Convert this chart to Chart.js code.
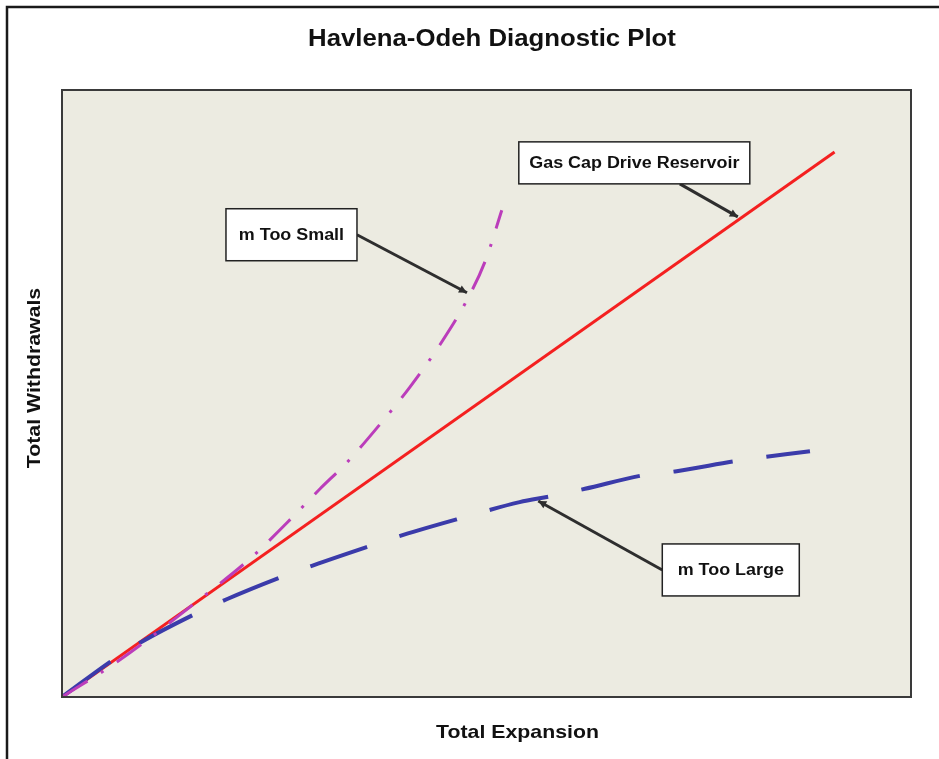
<!DOCTYPE html>
<html>
<head>
<meta charset="utf-8">
<script src="https://cdn.jsdelivr.net/npm/chart.js@4.4.1/dist/chart.umd.min.js"></script>
<style>
  html, body { margin: 0; padding: 0; background: #ffffff; }
  #wrap { width: 939px; height: 759px; }
</style>
</head>
<body>
<div id="wrap"><canvas id="c" width="939" height="759"></canvas></div>
<script>
// ---- Data (arbitrary units, axes run 0..100) ----
const chartTitle = 'Havlena-Odeh Diagnostic Plot';
const xAxisTitle = 'Total Expansion';
const yAxisTitle = 'Total Withdrawals';

const gasCapX = [0, 91.0];
const gasCapY = [0, 89.8];

const tooSmallX = [0, 6.5, 16.6, 22.4, 26.5, 30.4, 33.6, 37.2, 41.0, 44.5, 47.7, 49.9, 51.8];
const tooSmallY = [0, 5.8, 16.5, 23.1, 28.7, 34.3, 38.7, 44.5, 51.1, 58.0, 65.4, 72.0, 80.2];

const tooLargeX = [0, 6.0, 9.4, 15.7, 19.4, 25.9, 29.6, 36.3, 40.2, 47.1, 53.9, 57.7, 61.6, 68.7, 72.4, 79.5, 88.1];
const tooLargeY = [0, 6.1, 9.1, 13.7, 16.1, 19.8, 21.7, 24.9, 26.7, 29.5, 32.1, 33.1, 34.3, 36.6, 37.2, 38.9, 40.5];

const labelTexts = ['m Too Small', 'Gas Cap Drive Reservoir', 'm Too Large'];
const labelTargetX = [47.7, 79.6, 56.1];
const labelTargetY = [66.6, 79.1, 32.3];

// ---- helpers ----
function pts(xs, ys) { return xs.map((x, i) => ({ x: x, y: ys[i] })); }

// label box layout (pixel offsets from target, size, anchor fraction)
const labelLayout = [
  { dx: -241, dy: -84, w: 131, h: 52, ax: 1, ay: 0.5 },
  { dx: -219, dy: -75, w: 231, h: 42, ax: 0.697, ay: 1 },
  { dx: 124, dy: 43, w: 137, h: 52, ax: 0, ay: 0.5 }
];

const STRETCH = 1.12;
const FONT = '"Liberation Sans", Arial, Helvetica, sans-serif';

function stretchText(ctx, text, x, y, rot) {
  ctx.save();
  ctx.translate(x, y);
  if (rot) ctx.rotate(rot);
  ctx.scale(STRETCH, 1);
  ctx.textAlign = 'center';
  ctx.textBaseline = 'middle';
  ctx.fillText(text, 0, 0);
  ctx.restore();
}

const decor = {
  id: 'decor',
  beforeDraw(chart) {
    const ctx = chart.ctx, a = chart.chartArea;
    ctx.save();
    ctx.fillStyle = '#ffffff';
    ctx.fillRect(0, 0, chart.width, chart.height);
    ctx.fillStyle = '#ECEBE1';
    ctx.fillRect(a.left, a.top, a.right - a.left, a.bottom - a.top);
    ctx.restore();
  },
  afterDatasetsDraw(chart) {
    const ctx = chart.ctx, a = chart.chartArea;
    const xs = chart.scales.x, ys = chart.scales.y;
    ctx.save();
    // plot border
    ctx.strokeStyle = '#3a3a3a';
    ctx.lineWidth = 2;
    ctx.strokeRect(a.left, a.top, a.right - a.left, a.bottom - a.top);

    // annotations
    labelTexts.forEach((t, i) => {
      const tx = xs.getPixelForValue(labelTargetX[i]);
      const ty = ys.getPixelForValue(labelTargetY[i]);
      const L = labelLayout[i];
      const bx = tx + L.dx, by = ty + L.dy;
      const sx = bx + L.w * L.ax, sy = by + L.h * L.ay;
      // pointer
      ctx.strokeStyle = '#2e2e2e';
      ctx.lineWidth = 3;
      ctx.beginPath();
      ctx.moveTo(sx, sy);
      ctx.lineTo(tx, ty);
      ctx.stroke();
      const ang = Math.atan2(ty - sy, tx - sx);
      ctx.fillStyle = '#2e2e2e';
      ctx.beginPath();
      ctx.moveTo(tx, ty);
      ctx.lineTo(tx - 8 * Math.cos(ang) + 4 * Math.sin(ang), ty - 8 * Math.sin(ang) - 4 * Math.cos(ang));
      ctx.lineTo(tx - 8 * Math.cos(ang) - 4 * Math.sin(ang), ty - 8 * Math.sin(ang) + 4 * Math.cos(ang));
      ctx.closePath();
      ctx.fill();
      // box
      ctx.fillStyle = '#ffffff';
      ctx.fillRect(bx, by, L.w, L.h);
      ctx.strokeStyle = '#222222';
      ctx.lineWidth = 1.5;
      ctx.strokeRect(bx, by, L.w, L.h);
      ctx.fillStyle = '#111111';
      ctx.font = 'bold 16px ' + FONT;
      stretchText(ctx, t, bx + L.w / 2, by + L.h / 2 + 1);
    });

    // titles
    ctx.fillStyle = '#111111';
    ctx.font = 'bold 23px ' + FONT;
    stretchText(ctx, chartTitle, 492, 40);
    ctx.font = 'bold 19px ' + FONT;
    stretchText(ctx, xAxisTitle, (a.left + a.right) / 2 + 31, 733);
    stretchText(ctx, yAxisTitle, 35, 378, -Math.PI / 2);

    // outer frame
    ctx.strokeStyle = '#1a1a1a';
    ctx.lineWidth = 2.5;
    ctx.beginPath();
    ctx.moveTo(7, 759);
    ctx.lineTo(7, 7);
    ctx.lineTo(939, 7);
    ctx.stroke();
    ctx.restore();
  }
};

new Chart(document.getElementById('c'), {
  type: 'line',
  data: {
    datasets: [
      {
        label: 'm Too Small',
        data: pts(tooSmallX, tooSmallY),
        borderColor: '#BB3DBB',
        borderWidth: 3,
        borderDash: [30, 16, 3, 16],
        cubicInterpolationMode: 'monotone',
        pointRadius: 0,
        fill: false
      },
      {
        label: 'm Too Large',
        data: pts(tooLargeX, tooLargeY),
        borderColor: '#3B3BAA',
        borderWidth: 4,
        borderDash: [60, 34],
        cubicInterpolationMode: 'monotone',
        pointRadius: 0,
        fill: false
      },
      {
        label: 'Gas Cap Drive Reservoir',
        data: pts(gasCapX, gasCapY),
        borderColor: '#F42020',
        borderWidth: 3,
        pointRadius: 0,
        fill: false
      }
    ]
  },
  options: {
    responsive: false,
    animation: false,
    layout: { padding: { left: 62, top: 90, right: 28, bottom: 62 } },
    scales: {
      x: { type: 'linear', min: 0, max: 100, display: false },
      y: { type: 'linear', min: 0, max: 100, display: false }
    },
    plugins: { legend: { display: false }, tooltip: { enabled: false }, title: { display: false } }
  },
  plugins: [decor]
});
</script>
</body>
</html>
